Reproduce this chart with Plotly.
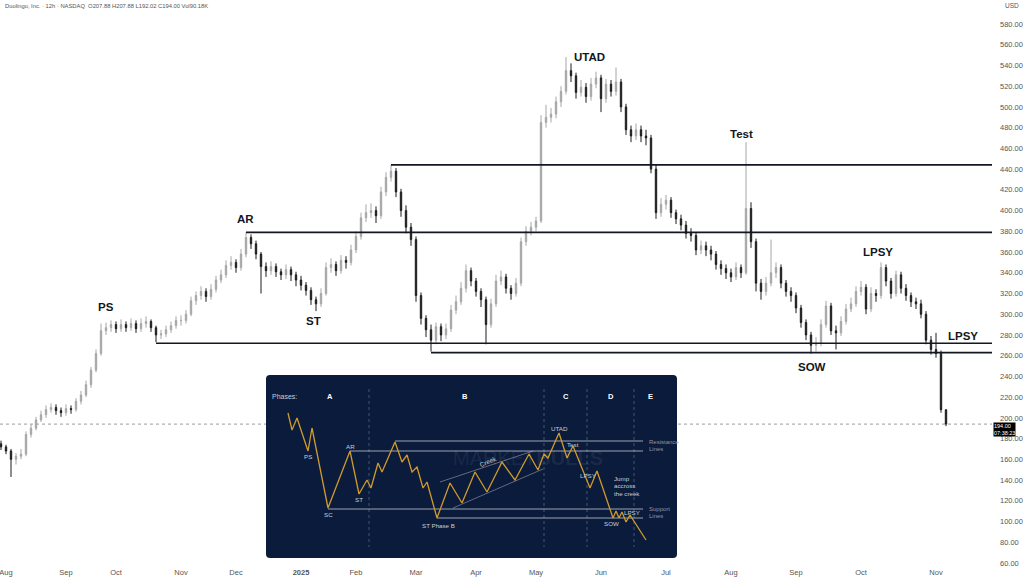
import numpy as np
import pandas as pd
import plotly.graph_objects as go

# ---------------- data ----------------
# candle groups per month: (first day, last day, number of candles)
month_groups = [
    ("2024-07-29", "2024-07-31", 1),
    ("2024-08-01", "2024-08-31", 12),
    ("2024-09-01", "2024-09-30", 10),
    ("2024-10-01", "2024-10-31", 13),
    ("2024-11-01", "2024-11-30", 11),
    ("2024-12-01", "2024-12-31", 13),
    ("2025-01-01", "2025-01-31", 11),
    ("2025-02-01", "2025-02-28", 12),
    ("2025-03-01", "2025-03-31", 12),
    ("2025-04-01", "2025-04-30", 12),
    ("2025-05-01", "2025-05-31", 13),
    ("2025-06-01", "2025-06-30", 13),
    ("2025-07-01", "2025-07-31", 13),
    ("2025-08-01", "2025-08-31", 13),
    ("2025-09-01", "2025-09-30", 13),
    ("2025-10-01", "2025-10-31", 15),
    ("2025-11-03", "2025-11-06", 3),
]
month_labels = ["Aug", "Sep", "Oct", "Nov", "Dec", "<b>2025</b>", "Feb", "Mar",
                "Apr", "May", "Jun", "Jul", "Aug", "Sep", "Oct", "Nov"]

first_open = 175.0
close = [
    172, 168, 160, 163, 165, 184, 190, 198, 203, 208,
    210, 207, 205, 209, 208, 216, 222, 232, 246, 262,
    284, 287, 290, 286, 290, 287, 291, 286, 291, 293,
    287, 280, 281, 285, 289, 294, 294, 300, 313, 318,
    322, 317, 324, 333, 338, 347, 350, 345, 358, 374,
    368, 358, 346, 342, 346, 341, 338, 343, 338, 333,
    328, 323, 314, 310, 320, 345, 348, 342, 352, 350,
    362, 375, 393, 398, 400, 395, 418, 432, 438, 418,
    400, 384, 372, 318, 296, 285, 275, 288, 280, 286,
    304, 312, 325, 342, 332, 322, 314, 290, 310, 332,
    336, 325, 320, 330, 370, 380, 384, 390, 485, 490,
    493, 505, 515, 535, 530, 514, 519, 510, 522, 528,
    508, 522, 515, 524, 500, 478, 472, 478, 472, 470,
    440, 398, 406, 410, 398, 392, 386, 378, 376, 362,
    366, 362, 358, 348, 344, 340, 336, 345, 340, 402,
    370, 330, 322, 330, 340, 345, 330, 322, 318, 306,
    292, 280, 270, 272, 290, 308, 284, 282, 293, 305,
    310, 322, 326, 305, 320, 318, 345, 332, 320, 338,
    325, 318, 312, 310, 300, 275, 266, 262, 207.88, 194.00,
]
high = [
    178, 174, 170, 166, 170, 187, 194, 201, 207, 212,
    214, 213, 210, 213, 212, 219, 226, 236, 249, 266,
    291, 292, 294, 293, 295, 293, 296, 294, 296, 298,
    295, 289, 285, 289, 293, 298, 299, 304, 317, 322,
    327, 325, 329, 337, 343, 352, 356, 353, 363, 379,
    377, 371, 360, 350, 351, 349, 344, 348, 346, 341,
    337, 331, 326, 317, 325, 350, 354, 351, 357, 356,
    367, 380, 398, 406, 407, 404, 423, 437, 444, 441,
    421, 405, 388, 375, 321, 299, 290, 292, 291, 291,
    309, 318, 331, 348, 345, 335, 325, 317, 315, 338,
    342, 339, 328, 335, 374, 385, 389, 394, 492, 502,
    499, 510, 520, 548, 542, 533, 526, 523, 528, 534,
    531, 527, 526, 538, 527, 503, 482, 484, 482, 478,
    473, 444, 412, 415, 413, 401, 396, 390, 383, 379,
    371, 370, 366, 361, 352, 348, 344, 350, 348, 466,
    408, 373, 334, 336, 372, 350, 348, 333, 326, 321,
    309, 295, 283, 278, 295, 313, 311, 289, 298, 310,
    316, 327, 332, 329, 326, 324, 350, 348, 335, 342,
    341, 329, 321, 316, 314, 303, 279, 282, 265, 207.88,
]
low = [
    169, 165, 143, 155, 160, 163, 181, 188, 196, 200,
    205, 203, 201, 202, 204, 206, 213, 220, 229, 244,
    260, 280, 283, 282, 283, 283, 284, 282, 283, 287,
    283, 273, 276, 278, 282, 286, 289, 291, 298, 309,
    314, 312, 314, 321, 330, 335, 343, 340, 342, 355,
    363, 353, 320, 336, 338, 336, 333, 334, 332, 327,
    323, 318, 309, 303, 307, 318, 340, 337, 339, 344,
    347, 359, 372, 389, 393, 388, 392, 414, 428, 413,
    394, 378, 366, 312, 290, 278, 264, 271, 274, 276,
    283, 300, 309, 321, 327, 317, 307, 271, 287, 307,
    328, 320, 314, 317, 327, 366, 376, 380, 388, 480,
    485, 489, 500, 512, 524, 508, 510, 504, 506, 518,
    495, 504, 510, 511, 495, 473, 466, 468, 466, 463,
    436, 392, 394, 401, 393, 387, 381, 373, 370, 357,
    358, 356, 352, 343, 338, 334, 331, 333, 335, 338,
    364, 322, 314, 318, 327, 335, 325, 317, 312, 301,
    287, 275, 262, 264, 269, 287, 280, 266, 279, 290,
    302, 307, 318, 300, 302, 312, 315, 327, 315, 317,
    320, 313, 307, 305, 296, 271, 261, 258, 205, 192.02,
]

# horizontal levels and the candle index each one starts from
levels = [444, 379, 272, 263]
level_start = [78, 49, 31, 86]

# wyckoff labels on the main chart: (text, candle index, price)
wy_labels = [("PS", 21, 307), ("AR", 48.8, 392), ("ST", 62.4, 293.5),
             ("UTAD", 117.6, 548), ("Test", 148, 474), ("LPSY", 175.4, 360),
             ("SOW", 162.2, 249), ("LPSY", 192.4, 279)]

last_price = 194.00
header = "Duolingo, Inc. · 12h · NASDAQ  O207.88 H207.88 L192.02 C194.00 Vol90.18K"

# ---- schematic (inset) data, inset units ----
sch_x = [22, 26, 31, 42, 46, 62, 84, 93, 101, 105, 112, 116, 129, 136, 141, 146, 151, 157, 161, 171,
         184, 196, 209, 221, 236, 249, 263, 272, 278, 282, 293, 301, 307, 324, 331, 347, 350, 353, 356, 360,
         364, 380]
sch_y = [38, 55, 43, 76, 53, 133, 76, 119, 105, 113, 88, 97, 67, 87, 80, 97, 92, 113, 107, 143,
         108, 128, 97, 117, 87, 105, 79, 95, 79, 83, 58, 83, 71, 113, 96, 143, 136, 143, 137, 147,
         140, 165]
sch_levels = [66, 76, 134, 143]
sch_level_start = [129, 84, 62, 171]
sch_level_end = 377
creek_upper = ([174, 267], [107, 76])
creek_lower = ([187, 277], [133, 94])
phase_names = ["A", "B", "C", "D", "E"]
phase_x = [64, 199, 300, 345, 384]
phase_dividers = [103, 278, 321, 368]
sch_texts = [("PS", 42, 81), ("SC", 62, 139), ("AR", 84, 71), ("ST", 93, 124),
             ("ST Phase B", 172, 150), ("UTAD", 293, 53), ("Test", 307, 69),
             ("LPSY", 322, 100), ("SOW", 345, 148), ("LPSY", 366, 137)]
jump_lines = ["Jump", "accross", "the creek"]
res_lines = ["Resistance", "Lines"]
sup_lines = ["Support", "Lines"]

# ---------------- build ----------------
dates, group_first = [], []
for s, e, n in month_groups:
    bd = pd.bdate_range(s, e)
    idx = np.linspace(0, len(bd) - 1, n).round().astype(int)
    sel = [bd[k].strftime("%Y-%m-%d") for k in idx]
    group_first.append(sel[0])
    dates += sel
opens = [first_open] + close[:-1]

FONT = "Liberation Sans, Arial, sans-serif"
W, H = 1024, 580
ML, MR, MT, MB = 0, 32, 0, 14
PW, PH = W - ML - MR, H - MT - MB
XR = [-0.2, 198.2]
YR = [57.1, 603.15]

fig = go.Figure()
fig.add_trace(go.Candlestick(
    x=dates, open=opens, high=high, low=low, close=close,
    increasing=dict(line=dict(color="#a6a6a6", width=1), fillcolor="#a6a6a6"),
    decreasing=dict(line=dict(color="#1c1c1c", width=1), fillcolor="#1c1c1c"),
    whiskerwidth=0, hoverinfo="skip", showlegend=False))

shapes = []
# current price dotted line
shapes.append(dict(type="line", xref="paper", yref="y", x0=0, x1=1, y0=last_price, y1=last_price,
                   line=dict(color="#9a9a9a", width=1, dash="dot"), layer="below"))
for lv, st in zip(levels, level_start):
    shapes.append(dict(type="line", xref="x", yref="y", x0=st, x1=XR[1], y0=lv, y1=lv,
                       line=dict(color="#131722", width=1.7), layer="above"))

# inset background (rounded rectangle)
r = 4
iw, ih = 411, 183
path = (f"M {r},0 L {iw-r},0 Q {iw},0 {iw},{r} L {iw},{ih-r} Q {iw},{ih} {iw-r},{ih} "
        f"L {r},{ih} Q 0,{ih} 0,{ih-r} L 0,{r} Q 0,0 {r},0 Z")
shapes.append(dict(type="path", path=path, xref="x2", yref="y2", fillcolor="#0b1b3b",
                   line=dict(width=0), layer="below"))
for dx in phase_dividers:
    shapes.append(dict(type="line", xref="x2", yref="y2", x0=dx, x1=dx, y0=14, y1=172,
                       line=dict(color="rgba(180,190,210,0.35)", width=1, dash="dot"), layer="below"))

# inset traces
for lv, st in zip(sch_levels, sch_level_start):
    fig.add_trace(go.Scatter(x=[st, sch_level_end], y=[lv, lv], mode="lines", xaxis="x2", yaxis="y2",
                             line=dict(color="rgba(205,210,220,0.75)", width=1),
                             hoverinfo="skip", showlegend=False))
for cx, cy in (creek_upper, creek_lower):
    fig.add_trace(go.Scatter(x=cx, y=cy, mode="lines", xaxis="x2", yaxis="y2",
                             line=dict(color="rgba(205,210,220,0.55)", width=0.8),
                             hoverinfo="skip", showlegend=False))
fig.add_trace(go.Scatter(x=sch_x, y=sch_y, mode="lines", xaxis="x2", yaxis="y2",
                         line=dict(color="#d09a2c", width=1.3), hoverinfo="skip", showlegend=False))

ann = []
ann.append(dict(text=header, xref="paper", yref="paper", x=3 / PW, y=(PH - 6) / PH,
                xanchor="left", yanchor="middle", showarrow=False,
                font=dict(family=FONT, size=5.8, color="#555555")))
ann.append(dict(text="USD", xref="paper", yref="paper", x=1003 / PW, y=(PH - 6) / PH,
                xanchor="left", yanchor="middle", showarrow=False,
                font=dict(family=FONT, size=6.5, color="#555555")))
ann.append(dict(text=f"{last_price:.2f}<br>07:38:23", xref="paper", yref="y", x=993 / PW, y=last_price,
                xanchor="left", yanchor="middle", yshift=-5, showarrow=False, align="left",
                bgcolor="#000000", borderpad=0,
                font=dict(family=FONT, size=5.5, color="#ffffff")))
for t, xi, yp in wy_labels:
    ann.append(dict(text=t, x=xi, y=yp, xref="x", yref="y", showarrow=False,
                    xanchor="center", yanchor="middle",
                    font=dict(family=FONT, size=11.5, color="#131722", weight=700)))

# inset annotations
def a2(text, x, y, size=6.5, color="#c9ced8", xanchor="center", **kw):
    d = dict(text=text, x=x, y=y, xref="x2", yref="y2", showarrow=False, xanchor=xanchor,
             yanchor="middle", font=dict(family=FONT, size=size, color=color))
    d.update(kw)
    ann.append(d)

a2("Phases:", 4, 21, size=7, xanchor="left")
for nme, px in zip(phase_names, phase_x):
    a2(f"<b>{nme}</b>", px, 21, size=7.5, color="#ffffff")
a2("MARKET<b>BULLS</b>", 262, 83, size=20, color="rgba(255,255,255,0.07)")
for t, x, y in sch_texts:
    a2(t, x, y, size=6.2)
for k, t in enumerate(jump_lines):
    a2(t, 346, 103 + 7.5 * k, size=6.2, xanchor="left")
for k, t in enumerate(res_lines):
    a2(t, 381, 67 + 7 * k, size=6, color="#8e96a6", xanchor="left")
for k, t in enumerate(sup_lines):
    a2(t, 381, 134 + 7 * k, size=6, color="#8e96a6", xanchor="left")
a2("Creek", 222, 86, size=6.5, textangle=-22)

fig.update_layout(
    width=W, height=H, margin=dict(l=ML, r=MR, t=MT, b=MB),
    paper_bgcolor="#ffffff", plot_bgcolor="#ffffff",
    boxgap=0.6, showlegend=False, shapes=shapes, annotations=ann,
    xaxis=dict(type="category", range=XR, rangeslider=dict(visible=False),
               tickvals=group_first[1:], ticktext=month_labels, showgrid=False,
               zeroline=False, showline=False, ticks="", automargin=False,
               tickfont=dict(family=FONT, size=7.5, color="#555555")),
    yaxis=dict(side="right", range=YR, tickvals=list(range(60, 600, 20)),
               tickformat=".2f", showgrid=False, zeroline=False, showline=False, ticks="",
               automargin=False, ticklabelstandoff=7,
               tickfont=dict(family=FONT, size=7.5, color="#555555")),
    xaxis2=dict(domain=[266 / PW, 677 / PW], anchor="y2", range=[0, 411], visible=False,
                fixedrange=True),
    yaxis2=dict(domain=[(PH - 558) / PH, (PH - 375) / PH], anchor="x2", range=[183, 0],
                visible=False, fixedrange=True),
)

fig.write_html("out.html", config={"displayModeBar": False},
               post_script="document.body.style.margin='0';document.body.style.overflow='hidden';")
